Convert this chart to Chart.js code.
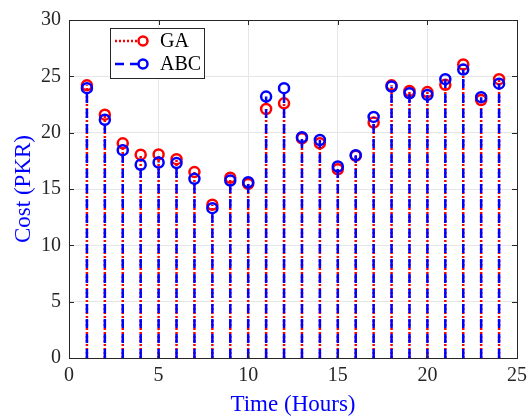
<!DOCTYPE html>
<html>
<head>
<meta charset="utf-8">
<script src="https://cdn.jsdelivr.net/npm/chart.js@4/dist/chart.umd.min.js"></script>
<style>
  html, body { margin: 0; padding: 0; background: #fff; }
  #wrap { width: 528px; height: 419px; }
</style>
</head>
<body>
<div id="wrap"><canvas id="myChart"></canvas></div>
<script>
// Hours along the x-axis
var hours = [1,2,3,4,5,6,7,8,9,10,11,12,13,14,15,16,17,18,19,20,21,22,23,24];
// Hourly cost found by each optimiser
var ga  = [24.2,21.6,19.05,18.05,18.07,17.65,16.5,13.6,16.0,15.45,22.1,22.6,19.5,19.05,16.75,17.95,20.9,24.2,23.7,23.6,24.25,26.05,22.9,24.75];
var abc = [23.95,21.15,18.45,17.15,17.35,17.3,15.9,13.3,15.75,15.6,23.2,23.95,19.6,19.35,17.0,18.0,21.4,24.1,23.5,23.35,24.75,25.6,23.15,24.35];

var serif = '"Liberation Serif", "Times New Roman", serif';
var axisInk = '#262626';

// each stem becomes its own little segment: (h,0) -> (h,v), then a gap
function stems(values) {
  var pts = [];
  for (var i = 0; i < hours.length; i++) {
    pts.push({x: hours[i], y: 0});
    pts.push({x: hours[i], y: values[i]});
    pts.push({x: hours[i], y: null});
  }
  return pts;
}

function headOnly(ctx) {
  return ctx.dataIndex % 3 === 1 ? 5 : 0;
}

var series = [
  { label: 'GA',  data: ga,  color: '#ff0000', dash: [2, 2] },
  { label: 'ABC', data: abc, color: '#0000ff', dash: [9, 6] }
];

// box, inward ticks and the legend, drawn on top like a MATLAB axes
var axesBox = {
  id: 'axesBox',
  afterDraw: function(chart) {
    var c = chart.ctx, a = chart.chartArea;
    var xs = chart.scales.x, ys = chart.scales.y;
    c.save();
    c.strokeStyle = axisInk;
    c.lineWidth = 1;
    c.beginPath();
    xs.ticks.forEach(function(t) {
      var px = Math.round(xs.getPixelForValue(t.value)) + 0.5;
      c.moveTo(px, a.bottom); c.lineTo(px, a.bottom - 5);
      c.moveTo(px, a.top); c.lineTo(px, a.top + 5);
    });
    ys.ticks.forEach(function(t) {
      var py = Math.round(ys.getPixelForValue(t.value)) + 0.5;
      c.moveTo(a.left, py); c.lineTo(a.left + 5, py);
      c.moveTo(a.right, py); c.lineTo(a.right - 5, py);
    });
    c.stroke();
    c.strokeRect(Math.round(a.left) + 0.5, Math.round(a.top) + 0.5,
                 Math.round(a.right - a.left), Math.round(a.bottom - a.top));

    // legend
    var lx = 110.5, ly = 28.5, lw = 94, lh = 50;
    c.fillStyle = '#fff';
    c.fillRect(lx, ly, lw, lh);
    c.strokeStyle = axisInk;
    c.strokeRect(lx, ly, lw, lh);
    series.forEach(function(s, i) {
      var y = 41 + i * 23;
      c.strokeStyle = s.color;
      c.lineWidth = 2.5;
      c.setLineDash(s.dash);
      c.beginPath();
      c.moveTo(115, y); c.lineTo(139, y);
      c.stroke();
      c.setLineDash([]);
      c.beginPath();
      c.arc(143, y, 4.5, 0, Math.PI * 2);
      c.stroke();
      c.fillStyle = '#000';
      c.font = '20px ' + serif;
      c.textBaseline = 'middle';
      c.fillText(s.label, 160, y + 1);
    });
    c.restore();
  }
};

var ctx = document.getElementById('myChart');
var myChart = new Chart(ctx, {
  type: 'line',
  data: {
    // ABC listed first so it sits on top of GA
    datasets: series.slice().reverse().map(function(s) {
      return {
        label: s.label,
        data: stems(s.data),
        borderColor: s.color,
        borderWidth: 2.5,
        borderDash: s.dash,
        fill: false,
        spanGaps: false,
        pointRadius: headOnly,
        pointHoverRadius: headOnly,
        pointBorderWidth: 2.5,
        pointBorderColor: s.color,
        pointBackgroundColor: 'rgba(0,0,0,0)'
      };
    })
  },
  options: {
    responsive: true,
    maintainAspectRatio: false,
    animation: false,
    events: [],
    layout: { padding: { top: 20, right: 11, left: 0, bottom: 0 } },
    plugins: { legend: { display: false }, tooltip: { enabled: false } },
    scales: {
      x: {
        type: 'linear',
        min: 0, max: 25,
        afterFit: function(s) { s.height = 61; s.paddingLeft = 0; s.paddingRight = 0; },
        ticks: { stepSize: 5, color: axisInk, padding: 6, font: { family: serif, size: 20 } },
        grid: { color: '#e6e6e6', drawTicks: false },
        border: { display: false },
        title: { display: true, text: 'Time (Hours)', color: '#0000ff', padding: 0,
                 font: { family: serif, size: 23 } }
      },
      y: {
        min: 0, max: 30,
        afterFit: function(s) { s.width = 69; s.paddingTop = 0; s.paddingBottom = 0; },
        ticks: { stepSize: 5, color: axisInk, padding: 8, font: { family: serif, size: 20 } },
        grid: { color: '#e6e6e6', drawTicks: false },
        border: { display: false },
        title: { display: true, text: 'Cost (PKR)', color: '#0000ff', padding: { top: 10, bottom: 0 },
                 font: { family: serif, size: 23 } }
      }
    }
  },
  plugins: [axesBox]
});
</script>
</body>
</html>
